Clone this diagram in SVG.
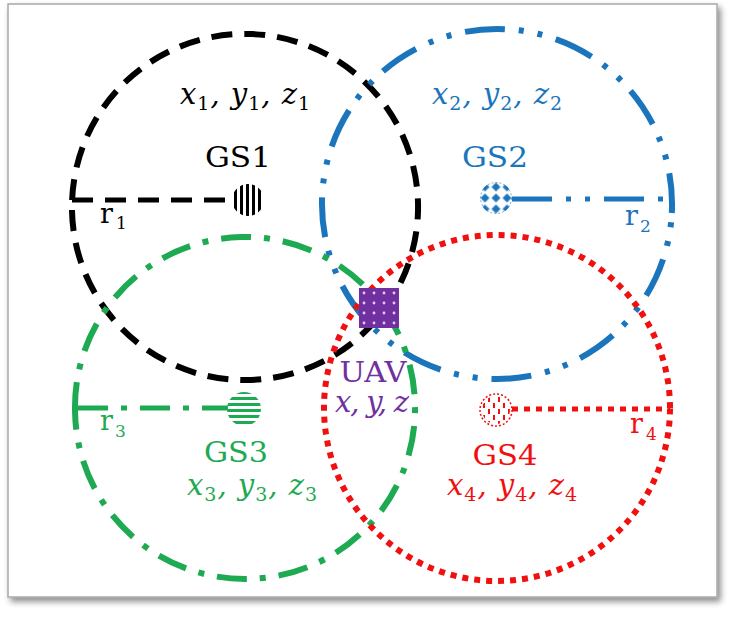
<svg xmlns="http://www.w3.org/2000/svg" width="733" height="621" viewBox="0 0 733 621">
<style>
.c{fill:none;stroke-width:6;stroke-linecap:butt}
.k{stroke:#000}
.b{stroke:#1B75BC}
.g{stroke:#1DAA52}
.r{stroke:#F01010}
.dk{stroke-dasharray:21 12}
.db{stroke-dasharray:40 14 5 14 5 14}
.dg{stroke-dasharray:30 13 6 13}
.dr{stroke-dasharray:6 6}
.math{font-family:"DejaVu Serif","Liberation Serif",serif;font-style:italic;font-size:29px}
.sub{font-style:normal;font-size:19px}
.lab{font-family:"DejaVu Serif","Liberation Serif",serif;font-size:27px}
.rl{font-family:"DejaVu Serif","Liberation Serif",serif;font-size:27px}
.rs{font-family:"DejaVu Serif","Liberation Serif",serif;font-size:17px}
</style>
<defs>
<filter id="sh" x="-5%" y="-5%" width="110%" height="110%">
<feGaussianBlur in="SourceAlpha" stdDeviation="3"/>
<feOffset dx="3" dy="4"/>
<feComponentTransfer><feFuncA type="linear" slope="0.45"/></feComponentTransfer>
<feMerge><feMergeNode/><feMergeNode in="SourceGraphic"/></feMerge>
</filter>
<pattern id="p1" width="6" height="6" patternUnits="userSpaceOnUse"><rect x="0" y="0" width="3" height="6" fill="#000"/></pattern>
<pattern id="p2" width="11" height="11" patternUnits="userSpaceOnUse" x="490.5" y="192.5"><polygon points="5.5,1 10,5.5 5.5,10 1,5.5" fill="#1B75BC"/></pattern>
<pattern id="p3" width="6" height="6" patternUnits="userSpaceOnUse" y="1"><rect x="0" y="0" width="6" height="3" fill="#1DAA52"/></pattern>
<pattern id="p4" width="10" height="12" patternUnits="userSpaceOnUse" x="486" y="396"><rect x="2" y="1" width="2" height="5" fill="#F01010"/><rect x="7" y="7" width="2" height="5" fill="#F01010"/></pattern>
<pattern id="pu" width="10" height="10" patternUnits="userSpaceOnUse" x="359" y="288"><circle cx="5" cy="5" r="1.4" fill="#E6C9F2"/></pattern>
</defs>
<rect x="0" y="0" width="733" height="621" fill="#fff"/>
<rect x="8" y="4" width="709" height="593" fill="#fff" stroke="#a8a8a8" stroke-width="1.5" filter="url(#sh)"/>

<g id="connectors">
<path class="c k dk" d="M72.1 200 A173 173 0 1 1 417.9 214 A173 173 0 1 1 72.1 200"/>
<path class="c b db" d="M671.8 213 A175 175 0 1 0 322.2 195 A175 175 0 1 0 671.8 213"/>
<path class="c g dg" d="M75.05 412 A170 170 0 1 1 414.95 404 A170 170 0 1 1 75.05 412"/>
<path class="c r dr" d="M670 408 A173 173 0 1 0 324 408 A173 173 0 1 0 670 408"/>
<path class="c k dk" style="stroke-width:5" d="M72 200 L232 200"/>
<path class="c b db" style="stroke-width:5" d="M512 199 L672 199"/>
<path class="c g dg" style="stroke-width:5" d="M78 408 L228 408"/>
<path class="c r dr" style="stroke-width:5" d="M512 409 L670 409"/>
</g>

<g id="GS1">
<circle cx="248" cy="200" r="16" fill="url(#p1)"/>
<text class="lab" x="238" y="167" text-anchor="middle" textLength="66" lengthAdjust="spacingAndGlyphs" fill="#000">GS1</text>
<text class="math" x="245" y="104" text-anchor="middle" textLength="130" lengthAdjust="spacing" fill="#000">x<tspan class="sub" dy="6">1</tspan><tspan dy="-6">, y</tspan><tspan class="sub" dy="6">1</tspan><tspan dy="-6">, z</tspan><tspan class="sub" dy="6">1</tspan></text>
<text class="rl" x="100" y="223" fill="#000">r</text><text class="rs" x="116" y="229" fill="#000">1</text>
</g>

<g id="GS2">
<circle cx="496" cy="198" r="16" fill="url(#p2)"/>
<circle cx="496" cy="198" r="15.5" fill="none" stroke="#1B75BC" stroke-width="1" stroke-dasharray="2 2" opacity="0.6"/>
<text class="lab" x="495" y="167" text-anchor="middle" textLength="66" lengthAdjust="spacingAndGlyphs" fill="#1B75BC">GS2</text>
<text class="math" x="497" y="104" text-anchor="middle" textLength="130" lengthAdjust="spacing" fill="#1B75BC">x<tspan class="sub" dy="6">2</tspan><tspan dy="-6">, y</tspan><tspan class="sub" dy="6">2</tspan><tspan dy="-6">, z</tspan><tspan class="sub" dy="6">2</tspan></text>
<text class="rl" x="625" y="225" fill="#1B75BC">r</text><text class="rs" x="640" y="232" fill="#1B75BC">2</text>
</g>

<g id="GS3">
<circle cx="244" cy="409" r="17" fill="url(#p3)"/>
<text class="lab" x="236" y="462" text-anchor="middle" textLength="64" lengthAdjust="spacingAndGlyphs" fill="#1DAA52">GS3</text>
<text class="math" x="252" y="495" text-anchor="middle" textLength="130" lengthAdjust="spacing" fill="#1DAA52">x<tspan class="sub" dy="6">3</tspan><tspan dy="-6">, y</tspan><tspan class="sub" dy="6">3</tspan><tspan dy="-6">, z</tspan><tspan class="sub" dy="6">3</tspan></text>
<text class="rl" x="100" y="430" fill="#1DAA52">r</text><text class="rs" x="115" y="437" fill="#1DAA52">3</text>
</g>

<g id="GS4">
<circle cx="496" cy="410" r="16" fill="#fff" stroke="#F01010" stroke-width="1.5" stroke-dasharray="2 2"/>
<circle cx="496" cy="410" r="14" fill="url(#p4)"/>
<text class="lab" x="505" y="465" text-anchor="middle" textLength="65" lengthAdjust="spacingAndGlyphs" fill="#F01010">GS4</text>
<text class="math" x="512" y="495" text-anchor="middle" textLength="130" lengthAdjust="spacing" fill="#F01010">x<tspan class="sub" dy="6">4</tspan><tspan dy="-6">, y</tspan><tspan class="sub" dy="6">4</tspan><tspan dy="-6">, z</tspan><tspan class="sub" dy="6">4</tspan></text>
<text class="rl" x="630" y="433" fill="#F01010">r</text><text class="rs" x="646" y="440" fill="#F01010">4</text>
</g>

<g id="UAV">
<rect x="359" y="288" width="40" height="40" fill="#7030A0"/>
<rect x="359" y="288" width="40" height="40" fill="url(#pu)"/>
<text class="lab" x="373" y="382" text-anchor="middle" textLength="67" lengthAdjust="spacingAndGlyphs" fill="#7030A0">UAV</text>
<text class="math" x="372" y="412" text-anchor="middle" textLength="74" lengthAdjust="spacing" fill="#7030A0">x, y, z</text>
</g>
</svg>
